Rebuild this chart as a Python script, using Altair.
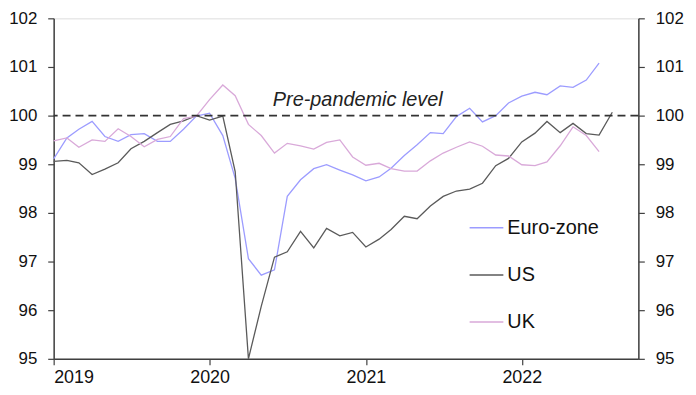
import altair as alt
import pandas as pd

# ---- data (monthly, first of month) ----
euro_start = "2019-01-01"
euro_values = [
    99.11, 99.54, 99.72, 99.88, 99.57, 99.47, 99.61, 99.63, 99.47, 99.47, 99.72, 99.99,
    100.05, 99.59, 98.71, 97.06, 96.72, 96.83, 98.34, 98.68, 98.91, 98.99, 98.88, 98.78,
    98.66, 98.74, 98.92, 99.18, 99.40, 99.65, 99.63, 99.98, 100.15, 99.87, 100.00, 100.26,
    100.40, 100.48, 100.43, 100.61, 100.58, 100.73, 101.08,
]
us_values = [
    99.06, 99.08, 99.03, 98.79, 98.90, 99.03, 99.32, 99.47, 99.65, 99.82, 99.89, 100.00,
    99.91, 99.99, 98.85, 95.00, 96.08, 97.09, 97.20, 97.62, 97.28, 97.68, 97.53, 97.60,
    97.30, 97.46, 97.66, 97.93, 97.88, 98.14, 98.34, 98.45, 98.49, 98.61, 98.97, 99.12,
    99.46, 99.64, 99.88, 99.65, 99.84, 99.63, 99.60, 100.07,
]
uk_values = [
    99.48, 99.54, 99.35, 99.50, 99.47, 99.73, 99.57, 99.36, 99.51, 99.57, 99.94, 99.99,
    100.33, 100.63, 100.41, 99.82, 99.59, 99.23, 99.43, 99.38, 99.31, 99.45, 99.50, 99.15,
    98.98, 99.02, 98.91, 98.86, 98.86, 99.07, 99.23, 99.35, 99.46, 99.37, 99.19, 99.17,
    98.99, 98.97, 99.05, 99.38, 99.77, 99.59, 99.26,
]
series_names = ["Euro-zone", "US", "UK"]
series_colors = ["#9c9cff", "#5a5a5a", "#d9a9d9"]

ref_level = [100]
ann_text = ["Pre-pandemic level"]
ann_date = ["2020-12-13"]
ann_value = [100.19]

y_ticks = [95, 96, 97, 98, 99, 100, 101, 102]
x_years = [2019, 2020, 2021, 2022]

# ---- build tables ----
rows = []
for name, vals in zip(series_names, [euro_values, us_values, uk_values]):
    dates = pd.date_range(euro_start, periods=len(vals), freq="MS")
    for d, v in zip(dates, vals):
        rows.append({"date": d.strftime("%Y-%m-%d"), "value": v, "series": name})
df = pd.DataFrame(rows)
ref_df = pd.DataFrame({"level": ref_level})
ann_df = pd.DataFrame({"text": ann_text, "date": ann_date, "value": ann_value})

FONT = "Liberation Sans"
x_scale = alt.Scale(
    type="utc",
    domain=[alt.DateTime(year=2019, month=1, date=1, utc=True),
            alt.DateTime(year=2022, month=10, date=1, utc=True)],
)
y_domain = [min(y_ticks), max(y_ticks)]

x_axis = alt.Axis(
    values=[alt.DateTime(year=y, month=1, date=1, utc=True) for y in x_years],
    format="%Y", title=None, grid=False, tickSize=6, labelPadding=4,
    labelFontSize=18, labelFont=FONT, labelColor="#111",
    domainColor="#404040", tickColor="#404040", domainWidth=1.5, tickWidth=1.2,
)

lines = alt.Chart(df).mark_line(strokeWidth=1.3).encode(
    x=alt.X("date:T", scale=x_scale, axis=x_axis),
    y=alt.Y("value:Q", scale=alt.Scale(domain=y_domain, nice=False, zero=False),
            axis=alt.Axis(values=y_ticks, title=None, grid=False, tickSize=6,
                          labelPadding=11, labelFontSize=17, labelFont=FONT,
                          labelColor="#111", domainColor="#404040",
                          tickColor="#404040", domainWidth=1.5, tickWidth=1.2)),
    color=alt.Color("series:N",
                    scale=alt.Scale(domain=series_names, range=series_colors),
                    sort=series_names,
                    legend=alt.Legend(title=None, orient="none", legendX=418,
                                      legendY=193, symbolType="stroke",
                                      symbolSize=1156, symbolStrokeWidth=1.5,
                                      labelFontSize=20, labelFont=FONT,
                                      labelColor="#111", labelOffset=3,
                                      rowPadding=19.5, padding=0)),
)

ref = alt.Chart(ref_df).mark_rule(color="#333333", strokeWidth=1.6,
                                  strokeDash=[8, 5]).encode(
    y=alt.Y("level:Q", scale=alt.Scale(domain=y_domain, nice=False, zero=False),
            axis=alt.Axis(values=y_ticks, title=None, grid=False, tickSize=6,
                          orient="right", labelPadding=11, labelFontSize=17,
                          labelFont=FONT, labelColor="#111",
                          domainColor="#404040", tickColor="#404040",
                          domainWidth=1.5, tickWidth=1.2)),
)

ann = alt.Chart(ann_df).mark_text(font=FONT, fontSize=20, fontStyle="italic",
                                  align="center", baseline="alphabetic",
                                  color="#222").encode(
    x=alt.X("date:T", scale=x_scale),
    y=alt.Y("value:Q", scale=alt.Scale(domain=y_domain, nice=False, zero=False),
            axis=None),
    text="text:N",
)

chart = alt.layer(lines, ref, ann).resolve_scale(y="independent").properties(
    width=589, height=343,
    autosize=alt.AutoSizeParams(type="none"),
    padding={"left": 46, "top": 9, "right": 50, "bottom": 31},
).configure_view(stroke=None).configure(background="white")

chart.save("out.html", embed_options={"renderer": "svg", "actions": False})
